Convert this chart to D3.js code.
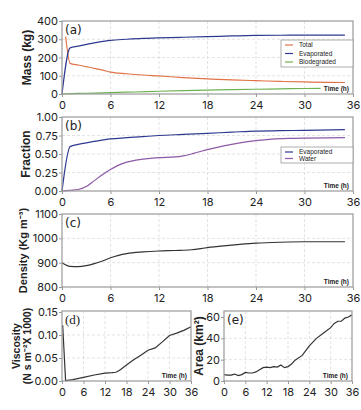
<!DOCTYPE html>
<html lang="en">
<head>
<meta charset="UTF-8">
<title>Oil spill weathering</title>
<script src="https://cdn.jsdelivr.net/npm/d3@7"></script>
<style>
  body { margin: 0; background: #fff; }
  svg { display: block; }
  .tick text { font-family: Inter, "DejaVu Sans", sans-serif; font-size: 11px; fill: #222; }
  .ytitle { font-family: "Liberation Sans", sans-serif; font-weight: bold; font-size: 12px; fill: #222; }
  .plabel { font-family: "DejaVu Sans", sans-serif; font-size: 12px; fill: #222; }
  .tlabel { font-family: "Liberation Sans", sans-serif; font-weight: bold; font-size: 6.5px; fill: #222; }
  .legend text { font-family: "Liberation Sans", sans-serif; font-size: 6.5px; fill: #222; }
</style>
</head>
<body>
<div id="chart"></div>
<script>
// ---- data ----
const xTicksH = [0, 6, 12, 18, 24, 30, 36];

// (a) mass, kg
const totalTime = [0.45, 1, 2, 3, 4, 5, 6, 8, 10, 12, 15, 18, 21, 24, 27, 30, 33, 35];
const totalMass = [315, 168, 159, 150, 140, 131, 120, 111, 104, 99, 90, 83, 77, 73, 69, 66, 64, 63];
const evapTime = [0, 1, 2, 3, 4, 6, 8, 10, 12, 15, 18, 21, 24, 27, 30, 35];
const evapMass = [0, 253, 262, 272, 280, 294, 300, 305, 308, 311, 314, 318, 321, 322, 323, 323];
const bioTime = [0, 2, 4, 6, 9, 12, 15, 18, 21, 24, 27, 30, 32];
const bioMass = [0, 3, 5, 8, 11, 15, 18, 21, 24, 26, 28, 30, 31];

// (b) fraction
const evapFracTime = [0, 1, 2, 4, 6, 8, 10, 12, 15, 18, 21, 24, 27, 30, 35];
const evapFrac = [0, 0.60, 0.63, 0.67, 0.705, 0.72, 0.735, 0.75, 0.765, 0.78, 0.795, 0.81, 0.815, 0.82, 0.83];
const waterTime = [0, 1, 2, 3, 4, 5, 6, 7, 8, 9, 10, 12, 14, 15, 16, 17, 18, 20, 22, 24, 26, 28, 30, 35];
const waterFrac = [0, 0.01, 0.02, 0.06, 0.14, 0.22, 0.29, 0.35, 0.39, 0.415, 0.43, 0.45, 0.46, 0.475, 0.5, 0.53, 0.56, 0.61, 0.65, 0.68, 0.70, 0.71, 0.715, 0.72];

// (c) density
const densTime = [0, 1, 2, 3, 4, 5, 6, 7, 8, 10, 12, 14, 16, 18, 20, 22, 24, 27, 30, 35];
const density = [900, 885, 884, 888, 896, 907, 920, 930, 937, 944, 948, 950, 953, 962, 969, 975, 980, 984, 986, 986];

// (d) viscosity
const viscTime = [0, 0.2, 1, 3, 6, 9, 12, 14, 15, 16, 18, 20, 22, 24, 26, 28, 30, 32, 34, 36];
const viscosity = [0.12, 0.12, 0.001, 0.003, 0.008, 0.013, 0.017, 0.018, 0.019, 0.023, 0.035, 0.046, 0.056, 0.067, 0.072, 0.085, 0.099, 0.104, 0.11, 0.118];

// (e) area
const areaTime = [0, 1, 2, 3, 4, 5, 6, 7, 8, 9, 10, 11, 12, 13, 14, 15, 16, 17, 18, 19, 20, 22, 24, 26, 28, 30, 31, 32, 33, 34, 35, 36];
const areaKm = [6, 5.5, 5.5, 6.5, 5, 6, 8, 7.5, 7.5, 8.5, 10.5, 12.5, 13, 12.5, 13.5, 13, 15, 12.5, 13.5, 16, 19.5, 24, 33, 40, 45, 50, 54, 56, 56, 59, 60, 62];

const COL = {
  total: "#e07448",
  evap: "#2e3a8f",
  bio: "#6fb152",
  water: "#8c5aa6",
  dark: "#333333"
};

// =============================
// SVG
// =============================
const width = 361, height = 410;
const svg = d3.select("#chart").append("svg")
  .attr("width", width)
  .attr("height", height);

function pairs(t, v) { return t.map((d, i) => [d, v[i]]); }

function drawPanel(p) {
  const x = d3.scaleLinear().domain([0, 36]).range([p.x0, p.x1]);
  const y = d3.scaleLinear().domain(p.yDomain).range([p.y1, p.y0]);
  const g = svg.append("g");

  // grid
  g.append("g").selectAll("line")
    .data(xTicksH.slice(1, -1))
    .join("line")
    .attr("x1", d => x(d)).attr("x2", d => x(d))
    .attr("y1", p.top).attr("y2", p.y1)
    .attr("stroke", "#dcdcdc").attr("stroke-dasharray", "3,2").attr("stroke-width", 0.8);
  g.append("g").selectAll("line")
    .data(p.yTicks.slice(1, -1))
    .join("line")
    .attr("x1", p.x0).attr("x2", p.x1)
    .attr("y1", d => y(d)).attr("y2", d => y(d))
    .attr("stroke", "#dcdcdc").attr("stroke-dasharray", "3,2").attr("stroke-width", 0.8);

  // lines
  p.series.forEach(s => {
    const line = d3.line().x(d => x(d[0])).y(d => y(d[1]))
      .curve(s.linear ? d3.curveLinear : d3.curveMonotoneX);
    g.append("path")
      .datum(pairs(s.t, s.v))
      .attr("fill", "none")
      .attr("stroke", s.color)
      .attr("stroke-width", 1.2)
      .attr("d", line);
  });

  // frame
  g.append("rect")
    .attr("x", p.x0).attr("y", p.top)
    .attr("width", p.x1 - p.x0).attr("height", p.y1 - p.top)
    .attr("fill", "none").attr("stroke", "#9a9a9a").attr("stroke-width", 1.2);

  // axes
  const ax = g.append("g")
    .attr("transform", `translate(0,${p.y1})`)
    .call(d3.axisBottom(x).tickValues(xTicksH).tickSize(3).tickPadding(4).tickFormat(d3.format("d")));
  const ay = g.append("g")
    .attr("transform", `translate(${p.x0},0)`)
    .call(d3.axisLeft(y).tickValues(p.yTicks).tickSize(3).tickPadding(1).tickFormat(p.fmt));
  [ax, ay].forEach(a => {
    a.select(".domain").remove();
    a.selectAll(".tick line").attr("stroke", "#9a9a9a");
  });

  // panel label
  g.append("text").attr("class", "plabel")
    .attr("x", p.x0 + 3).attr("y", p.top + 13)
    .style("font-family", p.serifLabel ? "'Liberation Serif', serif" : null)
    .style("font-size", p.serifLabel ? "13px" : null)
    .text(p.label);

  // time label
  g.append("text").attr("class", "tlabel")
    .attr("x", p.x1 - 4).attr("y", p.y1 - 3)
    .attr("text-anchor", "end")
    .text("Time (h)");

  // y title
  const cy = (p.top + p.y1) / 2;
  const tt = g.append("text").attr("class", "ytitle")
    .attr("transform", `translate(${p.titleX},${cy}) rotate(-90)`)
    .attr("text-anchor", "middle");
  if (p.titleSize) tt.style("font-size", p.titleSize);
  p.title.forEach((t, i) => {
    tt.append("tspan").attr("x", 0).attr("dy", i === 0 ? 0 : "1.0em").text(t);
  });

  // legend
  if (p.legend) {
    const L = p.legend;
    const lg = g.append("g").attr("class", "legend");
    lg.append("rect")
      .attr("x", L.x).attr("y", L.y).attr("width", L.w).attr("height", L.h)
      .attr("fill", "#fff").attr("stroke", "#9a9a9a").attr("stroke-width", 0.8);
    L.items.forEach((it, i) => {
      const yy = L.y + 5 + i * L.step;
      lg.append("line")
        .attr("x1", L.x + 4).attr("x2", L.x + 12)
        .attr("y1", yy).attr("y2", yy)
        .attr("stroke", it.color).attr("stroke-width", 1.2);
      lg.append("text")
        .attr("x", L.x + 18).attr("y", yy + 2.2)
        .text(it.name);
    });
  }
}

// =============================
// Panels
// =============================
drawPanel({
  label: "(a)", x0: 62, x1: 353, top: 21, y0: 21, y1: 94,
  yDomain: [0, 400], yTicks: [0, 100, 200, 300, 400], fmt: d3.format("d"),
  title: ["Mass (kg)"], titleX: 31,
  series: [
    { t: totalTime, v: totalMass, color: COL.total },
    { t: evapTime, v: evapMass, color: COL.evap },
    { t: bioTime, v: bioMass, color: COL.bio }
  ],
  legend: { x: 281, y: 40, w: 72, h: 27, step: 8.5, items: [
    { name: "Total", color: COL.total },
    { name: "Evaporated", color: COL.evap },
    { name: "Biodegraded", color: COL.bio }
  ] }
});

drawPanel({
  label: "(b)", x0: 62, x1: 353, top: 117, y0: 117, y1: 191,
  yDomain: [0, 1], yTicks: [0, 0.25, 0.5, 0.75, 1], fmt: d3.format(".2f"),
  title: ["Fraction"], titleX: 30,
  series: [
    { t: evapFracTime, v: evapFrac, color: COL.evap },
    { t: waterTime, v: waterFrac, color: COL.water }
  ],
  legend: { x: 281, y: 147, w: 72, h: 16, step: 6.5, items: [
    { name: "Evaporated", color: COL.evap },
    { name: "Water", color: COL.water }
  ] }
});

drawPanel({
  label: "(c)", x0: 62, x1: 353, top: 214, y0: 214, y1: 287,
  yDomain: [800, 1100], yTicks: [800, 900, 1000, 1100], fmt: d3.format("d"),
  title: ["Density (Kg m\u207B\u00B3)"], titleX: 27, titleSize: "11px",
  series: [{ t: densTime, v: density, color: COL.dark }]
});

drawPanel({
  label: "(d)", serifLabel: true, x0: 62, x1: 191, top: 311, y0: 312, y1: 381,
  yDomain: [0, 0.15], yTicks: [0, 0.05, 0.1, 0.15], fmt: d3.format(".2f"),
  title: ["Viscosity", "(N s m\u207B\u00B2X 1000)"], titleX: 20, titleSize: "10.5px",
  series: [{ t: viscTime, v: viscosity, color: COL.dark, linear: true }]
});

drawPanel({
  label: "(e)", x0: 224, x1: 352, top: 311, y0: 317, y1: 381,
  yDomain: [0, 60], yTicks: [0, 20, 40, 60], fmt: d3.format("d"),
  title: ["Area (km\u00B2)"], titleX: 203,
  series: [{ t: areaTime, v: areaKm, color: COL.dark, linear: true }]
});
</script>
</body>
</html>
